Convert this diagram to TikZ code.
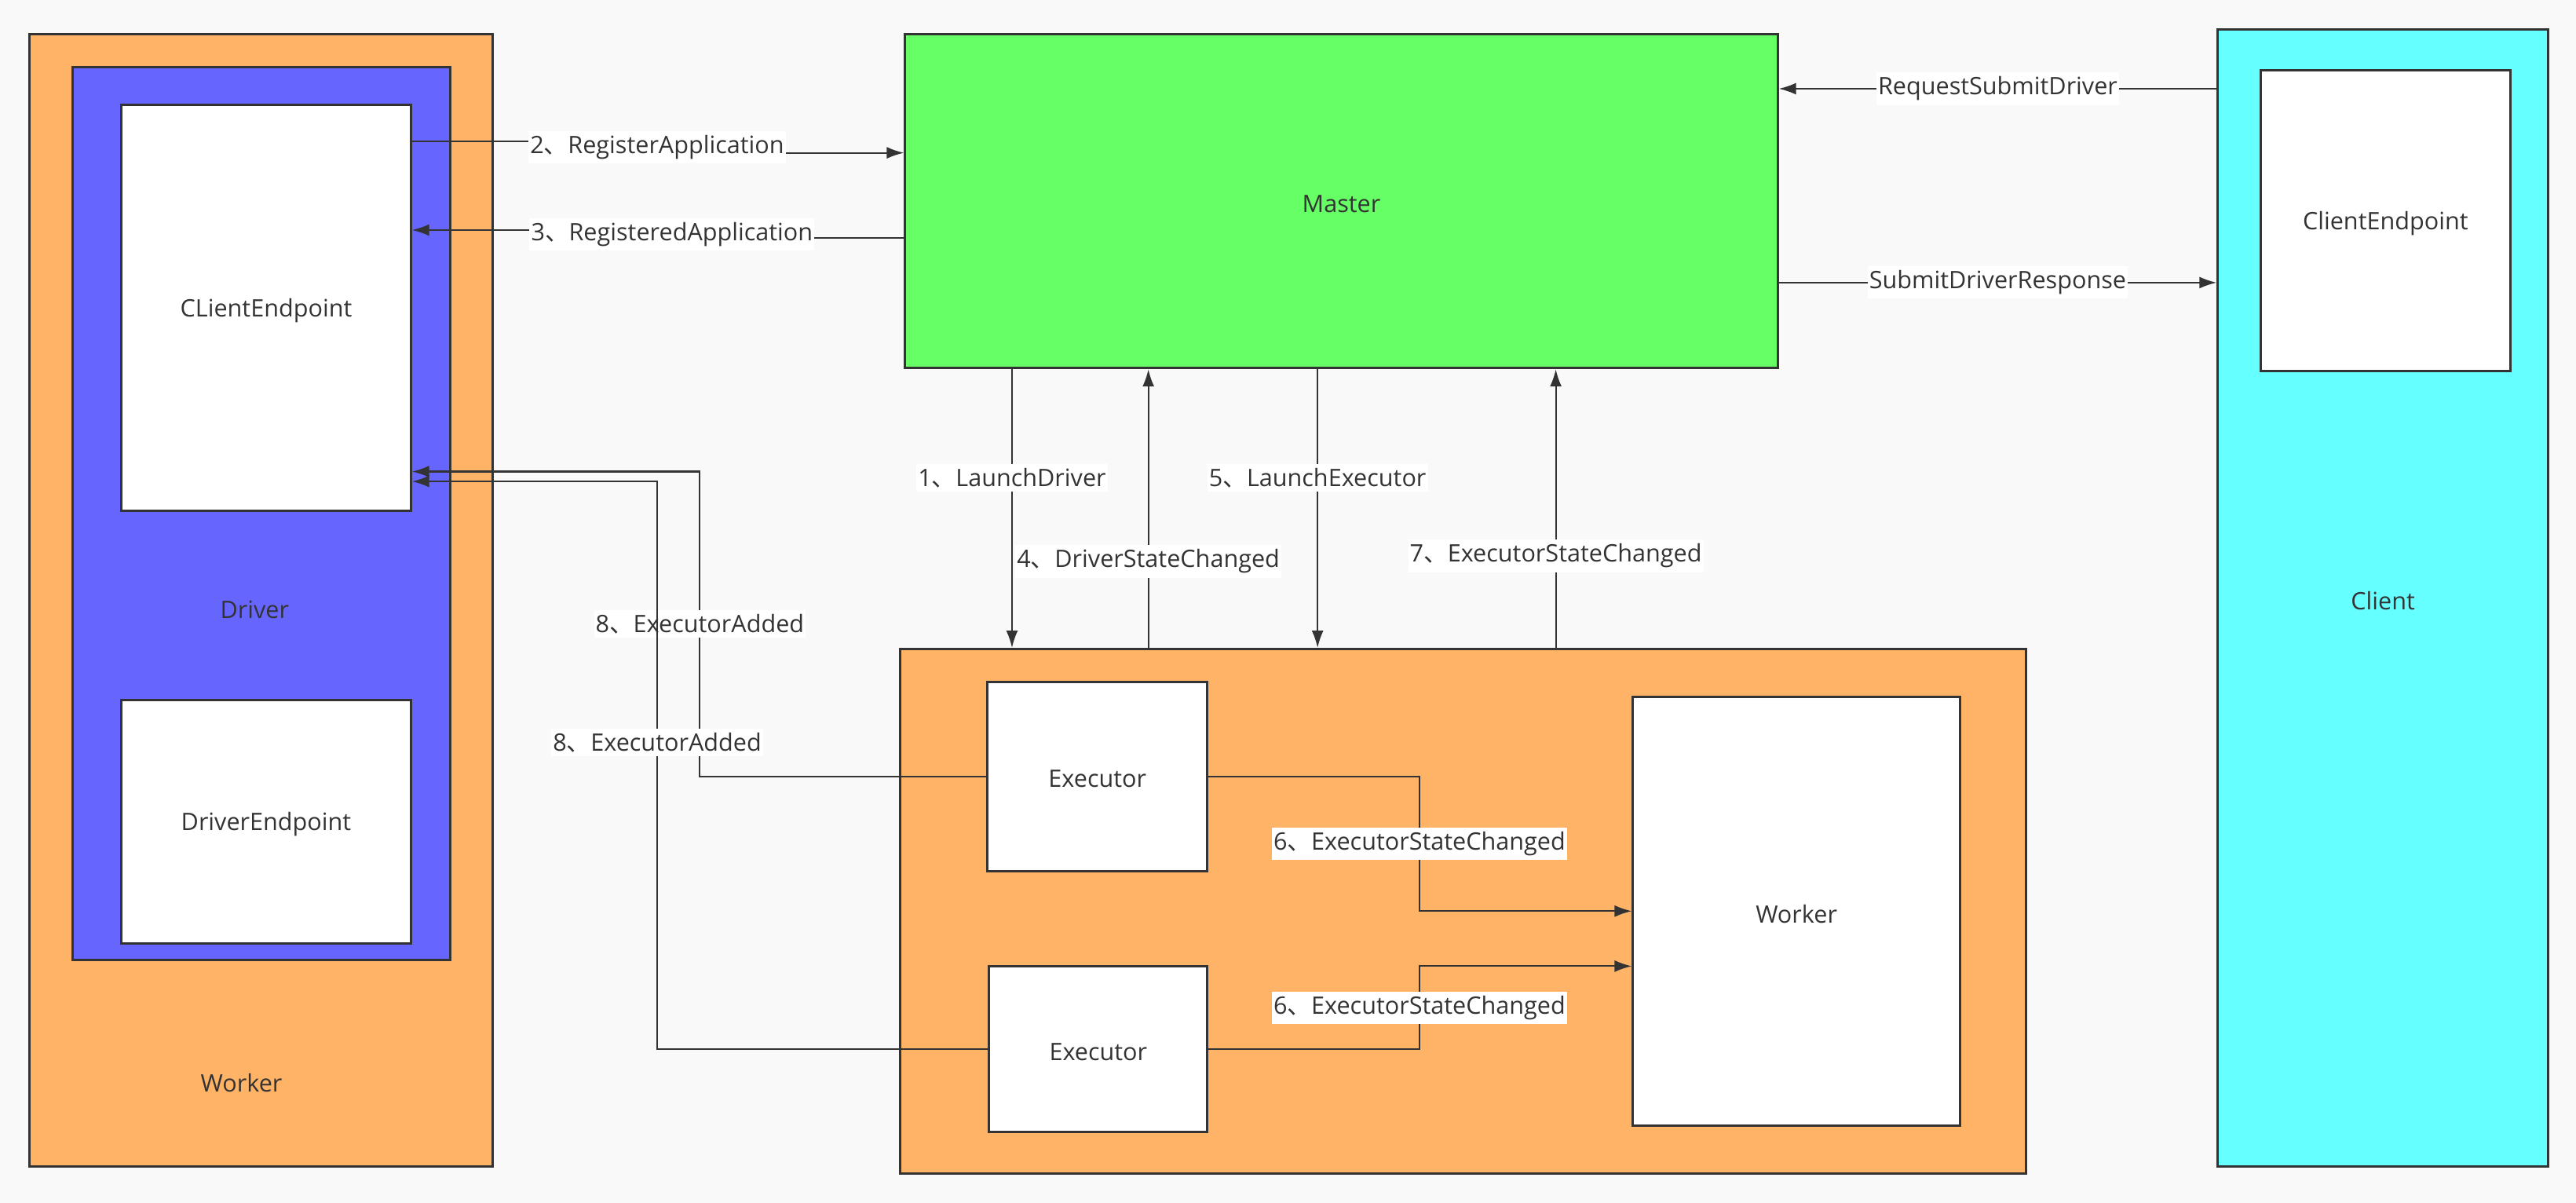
\documentclass[tikz,border=0pt]{standalone}
\usepackage{fontspec}
\setmainfont{Open Sans}
\newfontfamily\cjk{Noto Sans CJK SC}
\usepackage{xcolor}
\usetikzlibrary{arrows.meta,fit,positioning}
\definecolor{workerorange}{HTML}{FFB366}
\definecolor{driverblue}{HTML}{6666FF}
\definecolor{mastergreen}{HTML}{66FF66}
\definecolor{clientcyan}{HTML}{66FFFF}
\definecolor{inkgray}{HTML}{333333}
\definecolor{papergray}{HTML}{F9F9F9}
\newcommand{\mk}{{\cjk 、}}
\tikzset{%
	block/.style    = {draw=inkgray, line width=0.85pt, rectangle, inner sep=0pt},
	worker/.style   = {block, fill=workerorange}, % Worker frame
	driver/.style   = {block, fill=driverblue},
	master/.style   = {block, fill=mastergreen},
	client/.style   = {block, fill=clientcyan},
	endpoint/.style = {block, fill=white},
	caption/.style  = {text=inkgray, inner sep=0pt},
	msg/.style      = {fill=white, text=inkgray, inner xsep=0.6pt, inner ysep=1.5pt}, % Message label
	arrow/.style    = {draw=inkgray, line width=0.6pt, -{Latex[length=2.2mm,width=1.5mm]}},
}
\begin{document}
\begin{tikzpicture}[x=0.020925cm, y=-0.020925cm, font=\fontsize{8.7}{10.4}\selectfont]
		\fill[papergray] (0,0) rectangle (1568,732.1);
		\useasboundingbox (0,0) rectangle (1568,732.1);
		% left worker with the driver
		\node [worker, fit={(18,21) (300,710)}] (W1) {};
		\node [driver, fit={(44,41) (274,584)}] (D) {};
		\node [endpoint, fit={(74,64) (250,311)}] (CE) {};
		\node [endpoint, fit={(74,426) (250,574)}] (DE) {};
		\node [caption, yshift=-1pt] (CEname) at (CE.center) {CLientEndpoint};
		\node [caption, yshift=-1pt] (DEname) at (DE.center) {DriverEndpoint};
		\node [caption] (Dname) at (155,371) {Driver};
		\node [caption] (W1name) at (147,659) {Worker};
		% master and client
		\node [master, fit={(551,21) (1082,224)}] (M) {};
		\node [caption, yshift=-1pt] (Mname) at (M.center) {Master};
		\node [client, fit={(1350,18) (1551,710)}] (C) {};
		\node [caption, yshift=-1pt] (Cname) at (C.center) {Client};
		\node [endpoint, fit={(1376,43) (1528,226)}] (CCE) {};
		\node [caption, yshift=-1pt] (CCEname) at (CCE.center) {ClientEndpoint};
		% worker with the executors
		\node [worker, fit={(548,395) (1233,714)}] (W2) {};
		\node [endpoint, fit={(601,415) (735,530)}] (E1) {};
		\node [endpoint, fit={(602,588) (735,689)}] (E2) {};
		\node [endpoint, fit={(994,424) (1193,685)}] (WK) {};
		\node [caption, yshift=-1pt] (E1name) at (E1.center) {Executor};
		\node [caption, yshift=-1pt] (E2name) at (E2.center) {Executor};
		\node [caption, yshift=-1pt] (WKname) at (WK.center) {Worker};
		% lanes of the connectors
		\coordinate (regA) at (400,86);
		\coordinate (regB) at (400,93);
		\coordinate (rgdA) at (409,145);
		\coordinate (rgdB) at (409,140);
		\coordinate (req) at (1215,54);
		\coordinate (resp) at (1215,172);
		\coordinate (ld) at (616,0);
		\coordinate (dsc) at (699,0);
		\coordinate (le) at (802,0);
		\coordinate (esc) at (947,0);
		\coordinate (ea1) at (426,287);
		\coordinate (ea2) at (400,293);
		\coordinate (sc6) at (864,0);
		\coordinate (lo6) at (864,588);
		\draw[arrow] (CE.east |- regA) -- (regA) -- node[msg] {2\mk RegisterApplication} (regB) -- (M.west |- regB);
		\draw[arrow] (M.west |- rgdA) -- (rgdA) -- node[msg] {3\mk RegisteredApplication} (rgdB) -- (CE.east |- rgdB);
		\draw[arrow] (C.west |- req) -- node[msg] {RequestSubmitDriver} (M.east |- req);
		\draw[arrow] (M.east |- resp) -- node[msg] {SubmitDriverResponse} (C.west |- resp);
		\draw[arrow] (W2.north -| dsc) -- node[msg, pos=0.31] {4\mk DriverStateChanged} (M.south -| dsc);
		\draw[arrow] (M.south -| ld) -- node[msg, pos=0.39] {1\mk LaunchDriver} (W2.north -| ld);
		\draw[arrow] (M.south -| le) -- node[msg, pos=0.39] {5\mk LaunchExecutor} (W2.north -| le);
		\draw[arrow] (W2.north -| esc) -- node[msg, pos=0.33] {7\mk ExecutorStateChanged} (M.south -| esc);
		\draw[arrow] (E1.west) -- (E1.west -| ea1) -- node[msg] {8\mk ExecutorAdded} (ea1) -- (CE.east |- ea1);
		\draw[arrow] (E2.west) -- (E2.west -| ea2) -- node[msg, pos=0.54] {8\mk ExecutorAdded} (ea2) -- (CE.east |- ea2);
		\draw[arrow] (E1.east) -- (E1.east -| sc6) -- node[msg] {6\mk ExecutorStateChanged} (WK.west -| sc6) -- (WK.west);
		\draw[arrow] (E2.east) -- (E2.east -| sc6) -- node[msg] {6\mk ExecutorStateChanged} (lo6) -- (WK.west |- lo6);
	\end{tikzpicture}
\end{document}
